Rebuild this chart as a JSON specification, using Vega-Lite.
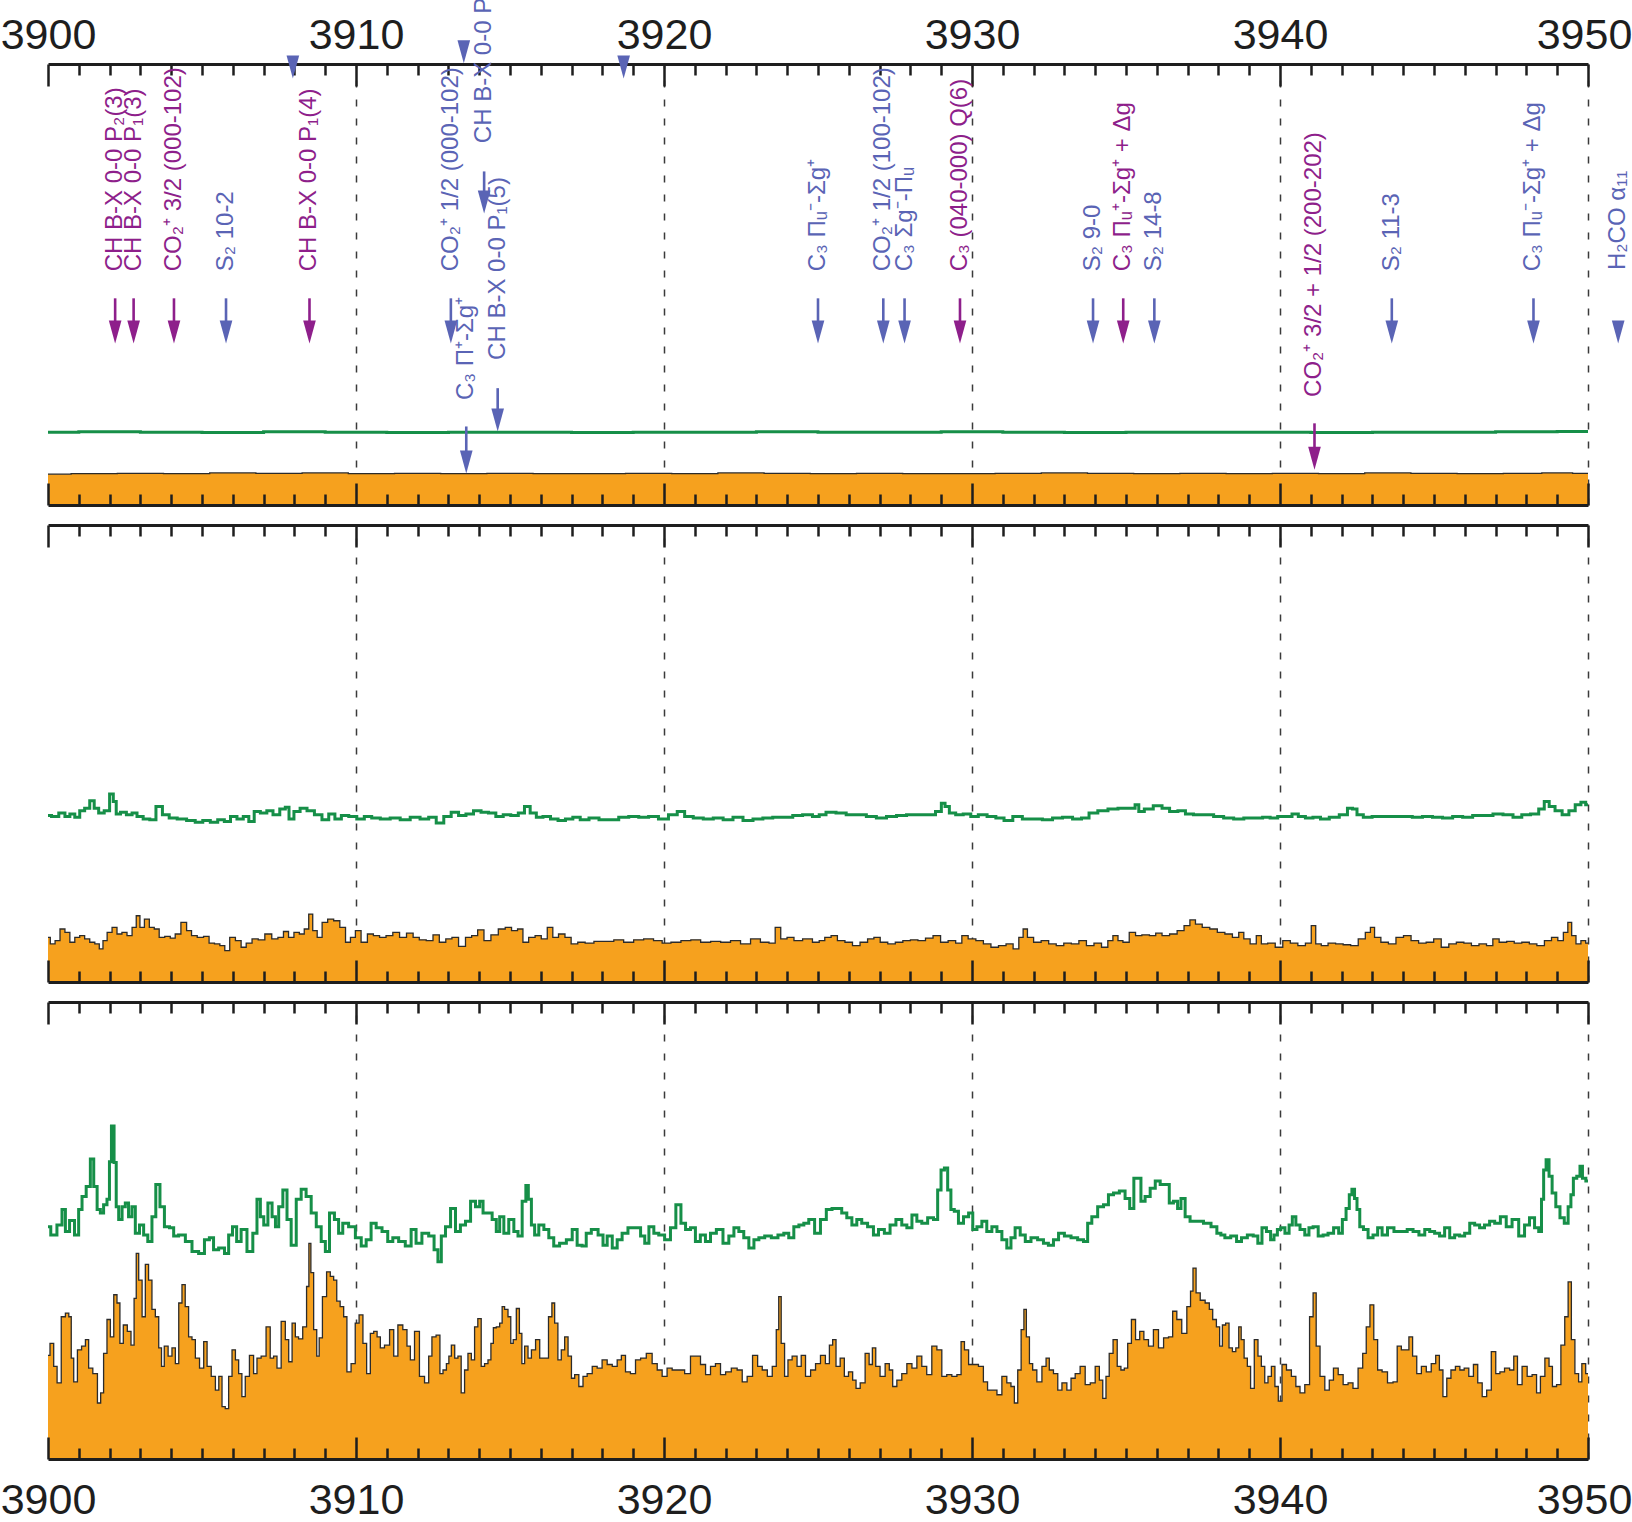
{
"$schema":"https://vega.github.io/schema/vega-lite/v6.json",
"background":"white",
"padding":{"left":0,"top":-3,"right":0,"bottom":0},
"spacing":20,
"bounds":"flush",
"resolve":{"scale":{"x":"independent","y":"independent","color":"independent"}},
"config":{"view":{"stroke":null},"axis":{"labelFlush":false,"domainColor":"#1e1e1e","domainWidth":3,"tickColor":"#1e1e1e","tickWidth":2.5,"labelFont":"Liberation Sans","labelFontSize":43,"labelColor":"#1e1e1e","labelOverlap":false,"gridColor":"#3a3a3a","gridWidth":1.5,"gridDash":[7,12]}},
"datasets":{
"g1":[{"x":3900,"v":1.16},{"x":3902,"v":1.165},{"x":3904,"v":1.16},{"x":3906,"v":1.155},{"x":3908,"v":1.165},{"x":3910,"v":1.16},{"x":3912,"v":1.155},{"x":3914,"v":1.16},{"x":3916,"v":1.16},{"x":3918,"v":1.155},{"x":3920,"v":1.16},{"x":3922,"v":1.16},{"x":3924,"v":1.165},{"x":3926,"v":1.16},{"x":3928,"v":1.16},{"x":3930,"v":1.165},{"x":3932,"v":1.16},{"x":3934,"v":1.155},{"x":3936,"v":1.16},{"x":3938,"v":1.16},{"x":3940,"v":1.16},{"x":3942,"v":1.155},{"x":3944,"v":1.16},{"x":3946,"v":1.16},{"x":3948,"v":1.165},{"x":3950,"v":1.17}],
"o1":[{"x":3900,"v":0.49},{"x":3901.5,"v":0.5},{"x":3903,"v":0.505},{"x":3904.5,"v":0.5},{"x":3906,"v":0.51},{"x":3907.5,"v":0.505},{"x":3909,"v":0.51},{"x":3910.5,"v":0.5},{"x":3912,"v":0.505},{"x":3913.5,"v":0.5},{"x":3915,"v":0.505},{"x":3916.5,"v":0.5},{"x":3918,"v":0.5},{"x":3919.5,"v":0.505},{"x":3921,"v":0.5},{"x":3922.5,"v":0.51},{"x":3924,"v":0.505},{"x":3925.5,"v":0.5},{"x":3927,"v":0.505},{"x":3928.5,"v":0.5},{"x":3930,"v":0.5},{"x":3931.5,"v":0.505},{"x":3933,"v":0.51},{"x":3934.5,"v":0.505},{"x":3936,"v":0.5},{"x":3937.5,"v":0.505},{"x":3939,"v":0.5},{"x":3940.5,"v":0.505},{"x":3942,"v":0.5},{"x":3943.5,"v":0.51},{"x":3945,"v":0.505},{"x":3946.5,"v":0.5},{"x":3948,"v":0.505},{"x":3949,"v":0.51},{"x":3950,"v":0.505}],
"g2":[{"x":3900,"v":2.01},{"x":3900.23,"v":2.0},{"x":3900.47,"v":2.04},{"x":3900.63,"v":2.0},{"x":3900.79,"v":2.03},{"x":3900.95,"v":1.99},{"x":3901.11,"v":2.07},{"x":3901.27,"v":2.1},{"x":3901.44,"v":2.19},{"x":3901.56,"v":2.1},{"x":3901.73,"v":2.04},{"x":3901.92,"v":2.07},{"x":3902.08,"v":2.27},{"x":3902.16,"v":2.18},{"x":3902.27,"v":2.03},{"x":3902.44,"v":2.05},{"x":3902.65,"v":2.02},{"x":3902.81,"v":2.04},{"x":3902.97,"v":2.0},{"x":3903.21,"v":1.97},{"x":3903.4,"v":1.96},{"x":3903.61,"v":2.12},{"x":3903.82,"v":2.02},{"x":3904.05,"v":1.98},{"x":3904.34,"v":1.97},{"x":3904.66,"v":1.95},{"x":3904.9,"v":1.93},{"x":3905.15,"v":1.95},{"x":3905.39,"v":1.93},{"x":3905.63,"v":1.96},{"x":3905.82,"v":1.94},{"x":3906.03,"v":2.0},{"x":3906.24,"v":1.97},{"x":3906.44,"v":2.0},{"x":3906.6,"v":1.94},{"x":3906.79,"v":2.06},{"x":3907.0,"v":2.04},{"x":3907.21,"v":2.07},{"x":3907.4,"v":2.02},{"x":3907.65,"v":2.09},{"x":3907.76,"v":2.11},{"x":3907.89,"v":1.97},{"x":3908.08,"v":2.06},{"x":3908.29,"v":2.1},{"x":3908.53,"v":2.07},{"x":3908.77,"v":2.02},{"x":3909.02,"v":1.96},{"x":3909.21,"v":2.03},{"x":3909.42,"v":1.97},{"x":3909.63,"v":2.01},{"x":3909.9,"v":2.0},{"x":3910.15,"v":1.97},{"x":3910.39,"v":2.0},{"x":3910.63,"v":1.98},{"x":3910.95,"v":1.97},{"x":3911.27,"v":1.98},{"x":3911.6,"v":1.96},{"x":3911.92,"v":1.99},{"x":3912.24,"v":1.97},{"x":3912.48,"v":1.99},{"x":3912.73,"v":1.92},{"x":3912.97,"v":2.0},{"x":3913.21,"v":2.05},{"x":3913.45,"v":2.01},{"x":3913.69,"v":2.03},{"x":3913.94,"v":2.07},{"x":3914.18,"v":2.05},{"x":3914.42,"v":2.04},{"x":3914.66,"v":2.0},{"x":3914.9,"v":2.02},{"x":3915.15,"v":2.01},{"x":3915.39,"v":2.04},{"x":3915.55,"v":2.12},{"x":3915.76,"v":2.04},{"x":3915.95,"v":1.99},{"x":3916.19,"v":2.0},{"x":3916.44,"v":1.97},{"x":3916.68,"v":1.95},{"x":3916.92,"v":1.97},{"x":3917.16,"v":1.99},{"x":3917.4,"v":1.96},{"x":3917.73,"v":1.98},{"x":3918.05,"v":1.96},{"x":3918.37,"v":1.96},{"x":3918.69,"v":1.99},{"x":3919.02,"v":2.0},{"x":3919.34,"v":1.99},{"x":3919.66,"v":2.0},{"x":3919.98,"v":1.97},{"x":3920.31,"v":2.02},{"x":3920.55,"v":2.06},{"x":3920.79,"v":2.0},{"x":3921.11,"v":1.98},{"x":3921.44,"v":1.97},{"x":3921.76,"v":1.98},{"x":3922.08,"v":1.96},{"x":3922.4,"v":1.99},{"x":3922.73,"v":1.95},{"x":3923.05,"v":1.97},{"x":3923.37,"v":1.98},{"x":3923.69,"v":1.99},{"x":3924.02,"v":1.99},{"x":3924.34,"v":2.01},{"x":3924.66,"v":2.02},{"x":3924.98,"v":2.0},{"x":3925.1,"v":2.02},{"x":3925.42,"v":2.05},{"x":3925.75,"v":2.04},{"x":3926.08,"v":2.02},{"x":3926.41,"v":2.02},{"x":3926.73,"v":2.0},{"x":3927.06,"v":1.98},{"x":3927.39,"v":2.0},{"x":3927.71,"v":2.01},{"x":3928.04,"v":2.02},{"x":3928.37,"v":2.02},{"x":3928.69,"v":2.02},{"x":3928.94,"v":2.06},{"x":3929.07,"v":2.16},{"x":3929.18,"v":2.12},{"x":3929.35,"v":2.04},{"x":3929.59,"v":2.02},{"x":3929.84,"v":2.03},{"x":3930.08,"v":2.0},{"x":3930.33,"v":2.02},{"x":3930.65,"v":2.0},{"x":3930.9,"v":1.98},{"x":3931.18,"v":1.95},{"x":3931.47,"v":2.0},{"x":3931.8,"v":1.97},{"x":3932.12,"v":1.97},{"x":3932.45,"v":1.96},{"x":3932.78,"v":1.98},{"x":3933.1,"v":1.99},{"x":3933.43,"v":1.97},{"x":3933.68,"v":1.98},{"x":3933.92,"v":2.04},{"x":3934.25,"v":2.07},{"x":3934.58,"v":2.09},{"x":3934.9,"v":2.1},{"x":3935.23,"v":2.1},{"x":3935.36,"v":2.14},{"x":3935.47,"v":2.06},{"x":3935.72,"v":2.09},{"x":3936.05,"v":2.13},{"x":3936.29,"v":2.1},{"x":3936.54,"v":2.06},{"x":3936.83,"v":2.07},{"x":3937.03,"v":2.03},{"x":3937.35,"v":2.02},{"x":3937.68,"v":2.02},{"x":3938.01,"v":2.0},{"x":3938.33,"v":1.98},{"x":3938.66,"v":1.97},{"x":3938.99,"v":1.98},{"x":3939.31,"v":1.98},{"x":3939.56,"v":1.99},{"x":3939.8,"v":1.98},{"x":3940.05,"v":2.0},{"x":3940.29,"v":2.0},{"x":3940.49,"v":2.03},{"x":3940.7,"v":2.0},{"x":3940.95,"v":1.98},{"x":3941.19,"v":1.99},{"x":3941.44,"v":1.97},{"x":3941.76,"v":1.99},{"x":3942.09,"v":2.02},{"x":3942.29,"v":2.1},{"x":3942.42,"v":2.09},{"x":3942.58,"v":2.02},{"x":3942.83,"v":1.99},{"x":3943.15,"v":2.0},{"x":3943.48,"v":2.0},{"x":3943.81,"v":2.0},{"x":3944.13,"v":2.0},{"x":3944.46,"v":1.99},{"x":3944.79,"v":2.0},{"x":3945.11,"v":1.99},{"x":3945.44,"v":1.98},{"x":3945.77,"v":2.0},{"x":3946.09,"v":1.99},{"x":3946.42,"v":2.01},{"x":3946.75,"v":2.01},{"x":3947.08,"v":2.03},{"x":3947.4,"v":2.02},{"x":3947.73,"v":1.99},{"x":3947.97,"v":2.02},{"x":3948.3,"v":2.03},{"x":3948.5,"v":2.09},{"x":3948.66,"v":2.18},{"x":3948.82,"v":2.12},{"x":3949.04,"v":2.07},{"x":3949.28,"v":2.02},{"x":3949.48,"v":2.07},{"x":3949.69,"v":2.14},{"x":3949.85,"v":2.17},{"x":3950,"v":2.14}],
"o2":[{"x":3900,"v":0.54},{"x":3900.15,"v":0.46},{"x":3900.31,"v":0.5},{"x":3900.47,"v":0.64},{"x":3900.63,"v":0.6},{"x":3900.79,"v":0.48},{"x":3900.95,"v":0.54},{"x":3901.11,"v":0.56},{"x":3901.27,"v":0.52},{"x":3901.44,"v":0.48},{"x":3901.6,"v":0.46},{"x":3901.73,"v":0.4},{"x":3901.84,"v":0.5},{"x":3902.0,"v":0.6},{"x":3902.16,"v":0.66},{"x":3902.32,"v":0.58},{"x":3902.48,"v":0.6},{"x":3902.65,"v":0.56},{"x":3902.81,"v":0.66},{"x":3902.92,"v":0.8},{"x":3903.05,"v":0.66},{"x":3903.21,"v":0.76},{"x":3903.37,"v":0.66},{"x":3903.53,"v":0.64},{"x":3903.69,"v":0.54},{"x":3903.89,"v":0.55},{"x":3904.05,"v":0.53},{"x":3904.21,"v":0.58},{"x":3904.42,"v":0.72},{"x":3904.58,"v":0.62},{"x":3904.74,"v":0.56},{"x":3904.95,"v":0.54},{"x":3905.15,"v":0.55},{"x":3905.31,"v":0.47},{"x":3905.5,"v":0.46},{"x":3905.66,"v":0.44},{"x":3905.82,"v":0.38},{"x":3905.98,"v":0.54},{"x":3906.19,"v":0.5},{"x":3906.35,"v":0.42},{"x":3906.52,"v":0.47},{"x":3906.73,"v":0.52},{"x":3906.92,"v":0.51},{"x":3907.16,"v":0.58},{"x":3907.37,"v":0.52},{"x":3907.56,"v":0.54},{"x":3907.73,"v":0.61},{"x":3907.89,"v":0.54},{"x":3908.08,"v":0.6},{"x":3908.24,"v":0.58},{"x":3908.4,"v":0.64},{"x":3908.53,"v":0.82},{"x":3908.66,"v":0.62},{"x":3908.82,"v":0.54},{"x":3908.98,"v":0.72},{"x":3909.18,"v":0.76},{"x":3909.37,"v":0.74},{"x":3909.58,"v":0.66},{"x":3909.74,"v":0.48},{"x":3909.9,"v":0.54},{"x":3910.06,"v":0.62},{"x":3910.27,"v":0.48},{"x":3910.47,"v":0.58},{"x":3910.66,"v":0.56},{"x":3910.87,"v":0.54},{"x":3911.08,"v":0.56},{"x":3911.31,"v":0.6},{"x":3911.52,"v":0.54},{"x":3911.76,"v":0.59},{"x":3911.95,"v":0.54},{"x":3912.16,"v":0.51},{"x":3912.4,"v":0.5},{"x":3912.6,"v":0.57},{"x":3912.81,"v":0.48},{"x":3913.02,"v":0.52},{"x":3913.21,"v":0.54},{"x":3913.45,"v":0.43},{"x":3913.66,"v":0.54},{"x":3913.85,"v":0.56},{"x":3914.05,"v":0.63},{"x":3914.26,"v":0.5},{"x":3914.5,"v":0.57},{"x":3914.74,"v":0.64},{"x":3914.95,"v":0.66},{"x":3915.15,"v":0.62},{"x":3915.34,"v":0.64},{"x":3915.5,"v":0.48},{"x":3915.71,"v":0.54},{"x":3915.92,"v":0.56},{"x":3916.11,"v":0.52},{"x":3916.31,"v":0.66},{"x":3916.47,"v":0.54},{"x":3916.68,"v":0.58},{"x":3916.89,"v":0.54},{"x":3917.08,"v":0.46},{"x":3917.32,"v":0.48},{"x":3917.56,"v":0.47},{"x":3917.89,"v":0.49},{"x":3918.21,"v":0.49},{"x":3918.53,"v":0.51},{"x":3918.85,"v":0.48},{"x":3919.18,"v":0.51},{"x":3919.5,"v":0.52},{"x":3919.82,"v":0.5},{"x":3920.06,"v":0.47},{"x":3920.39,"v":0.48},{"x":3920.71,"v":0.5},{"x":3921.03,"v":0.51},{"x":3921.35,"v":0.48},{"x":3921.68,"v":0.49},{"x":3922.0,"v":0.48},{"x":3922.32,"v":0.5},{"x":3922.65,"v":0.46},{"x":3922.97,"v":0.52},{"x":3923.29,"v":0.48},{"x":3923.53,"v":0.47},{"x":3923.69,"v":0.66},{"x":3923.89,"v":0.52},{"x":3924.1,"v":0.54},{"x":3924.34,"v":0.5},{"x":3924.66,"v":0.52},{"x":3924.98,"v":0.48},{"x":3925.1,"v":0.5},{"x":3925.34,"v":0.54},{"x":3925.51,"v":0.56},{"x":3925.75,"v":0.5},{"x":3926.0,"v":0.48},{"x":3926.24,"v":0.44},{"x":3926.49,"v":0.48},{"x":3926.73,"v":0.52},{"x":3926.9,"v":0.54},{"x":3927.14,"v":0.48},{"x":3927.39,"v":0.46},{"x":3927.63,"v":0.48},{"x":3927.88,"v":0.5},{"x":3928.12,"v":0.51},{"x":3928.37,"v":0.5},{"x":3928.61,"v":0.53},{"x":3928.86,"v":0.56},{"x":3929.1,"v":0.48},{"x":3929.35,"v":0.5},{"x":3929.59,"v":0.47},{"x":3929.75,"v":0.56},{"x":3930.0,"v":0.52},{"x":3930.25,"v":0.5},{"x":3930.49,"v":0.46},{"x":3930.74,"v":0.42},{"x":3930.98,"v":0.44},{"x":3931.23,"v":0.46},{"x":3931.44,"v":0.4},{"x":3931.6,"v":0.54},{"x":3931.72,"v":0.64},{"x":3931.88,"v":0.54},{"x":3932.12,"v":0.48},{"x":3932.37,"v":0.5},{"x":3932.61,"v":0.46},{"x":3932.86,"v":0.44},{"x":3933.1,"v":0.47},{"x":3933.35,"v":0.46},{"x":3933.59,"v":0.5},{"x":3933.84,"v":0.44},{"x":3934.08,"v":0.47},{"x":3934.33,"v":0.42},{"x":3934.49,"v":0.5},{"x":3934.66,"v":0.56},{"x":3934.82,"v":0.5},{"x":3934.98,"v":0.48},{"x":3935.23,"v":0.6},{"x":3935.39,"v":0.56},{"x":3935.64,"v":0.57},{"x":3935.88,"v":0.56},{"x":3936.05,"v":0.59},{"x":3936.29,"v":0.56},{"x":3936.54,"v":0.58},{"x":3936.78,"v":0.62},{"x":3936.99,"v":0.68},{"x":3937.16,"v":0.75},{"x":3937.35,"v":0.7},{"x":3937.6,"v":0.66},{"x":3937.84,"v":0.64},{"x":3938.09,"v":0.6},{"x":3938.33,"v":0.58},{"x":3938.58,"v":0.54},{"x":3938.74,"v":0.6},{"x":3938.91,"v":0.52},{"x":3939.15,"v":0.46},{"x":3939.31,"v":0.56},{"x":3939.48,"v":0.46},{"x":3939.72,"v":0.47},{"x":3939.97,"v":0.42},{"x":3940.21,"v":0.5},{"x":3940.46,"v":0.47},{"x":3940.7,"v":0.44},{"x":3940.95,"v":0.47},{"x":3941.08,"v":0.68},{"x":3941.24,"v":0.46},{"x":3941.44,"v":0.44},{"x":3941.68,"v":0.47},{"x":3941.93,"v":0.46},{"x":3942.17,"v":0.45},{"x":3942.42,"v":0.44},{"x":3942.66,"v":0.52},{"x":3942.88,"v":0.6},{"x":3942.99,"v":0.66},{"x":3943.15,"v":0.54},{"x":3943.4,"v":0.48},{"x":3943.64,"v":0.46},{"x":3943.89,"v":0.54},{"x":3944.13,"v":0.56},{"x":3944.38,"v":0.5},{"x":3944.62,"v":0.47},{"x":3944.87,"v":0.48},{"x":3945.11,"v":0.52},{"x":3945.36,"v":0.42},{"x":3945.6,"v":0.46},{"x":3945.85,"v":0.48},{"x":3946.09,"v":0.47},{"x":3946.34,"v":0.44},{"x":3946.58,"v":0.46},{"x":3946.83,"v":0.44},{"x":3946.99,"v":0.52},{"x":3947.24,"v":0.48},{"x":3947.48,"v":0.49},{"x":3947.73,"v":0.47},{"x":3947.97,"v":0.48},{"x":3948.22,"v":0.46},{"x":3948.46,"v":0.44},{"x":3948.71,"v":0.5},{"x":3948.92,"v":0.54},{"x":3949.12,"v":0.5},{"x":3949.28,"v":0.6},{"x":3949.41,"v":0.72},{"x":3949.53,"v":0.56},{"x":3949.69,"v":0.46},{"x":3949.85,"v":0.5},{"x":3950,"v":0.47}],
"g3":[{"x":3900,"v":2.53},{"x":3900.18,"v":2.44},{"x":3900.4,"v":2.55},{"x":3900.51,"v":2.72},{"x":3900.62,"v":2.48},{"x":3900.78,"v":2.6},{"x":3900.94,"v":2.44},{"x":3901.05,"v":2.72},{"x":3901.16,"v":2.86},{"x":3901.32,"v":2.97},{"x":3901.43,"v":3.27},{"x":3901.54,"v":2.97},{"x":3901.65,"v":2.72},{"x":3901.75,"v":2.68},{"x":3901.86,"v":2.77},{"x":3901.97,"v":2.83},{"x":3902.02,"v":3.24},{"x":3902.1,"v":3.63},{"x":3902.19,"v":3.23},{"x":3902.24,"v":2.75},{"x":3902.35,"v":2.61},{"x":3902.46,"v":2.75},{"x":3902.56,"v":2.79},{"x":3902.67,"v":2.64},{"x":3902.78,"v":2.75},{"x":3902.89,"v":2.46},{"x":3903.05,"v":2.55},{"x":3903.16,"v":2.44},{"x":3903.32,"v":2.37},{"x":3903.43,"v":2.64},{"x":3903.57,"v":2.99},{"x":3903.7,"v":2.75},{"x":3903.86,"v":2.53},{"x":3904.03,"v":2.52},{"x":3904.13,"v":2.43},{"x":3904.35,"v":2.44},{"x":3904.57,"v":2.37},{"x":3904.78,"v":2.26},{"x":3905.0,"v":2.24},{"x":3905.16,"v":2.39},{"x":3905.32,"v":2.41},{"x":3905.43,"v":2.28},{"x":3905.65,"v":2.3},{"x":3905.81,"v":2.24},{"x":3905.92,"v":2.44},{"x":3906.06,"v":2.53},{"x":3906.19,"v":2.37},{"x":3906.35,"v":2.5},{"x":3906.57,"v":2.26},{"x":3906.73,"v":2.46},{"x":3906.84,"v":2.83},{"x":3906.95,"v":2.64},{"x":3907.06,"v":2.55},{"x":3907.22,"v":2.79},{"x":3907.33,"v":2.64},{"x":3907.44,"v":2.53},{"x":3907.54,"v":2.75},{"x":3907.71,"v":2.93},{"x":3907.81,"v":2.61},{"x":3907.98,"v":2.33},{"x":3908.14,"v":2.83},{"x":3908.3,"v":2.94},{"x":3908.46,"v":2.86},{"x":3908.63,"v":2.68},{"x":3908.79,"v":2.53},{"x":3908.95,"v":2.37},{"x":3909.06,"v":2.26},{"x":3909.22,"v":2.68},{"x":3909.38,"v":2.61},{"x":3909.49,"v":2.46},{"x":3909.65,"v":2.57},{"x":3909.87,"v":2.53},{"x":3910.09,"v":2.41},{"x":3910.25,"v":2.32},{"x":3910.41,"v":2.39},{"x":3910.57,"v":2.57},{"x":3910.74,"v":2.52},{"x":3910.95,"v":2.48},{"x":3911.11,"v":2.37},{"x":3911.28,"v":2.41},{"x":3911.49,"v":2.37},{"x":3911.71,"v":2.32},{"x":3911.87,"v":2.5},{"x":3912.03,"v":2.35},{"x":3912.25,"v":2.46},{"x":3912.47,"v":2.43},{"x":3912.6,"v":2.28},{"x":3912.72,"v":2.15},{"x":3912.82,"v":2.43},{"x":3912.99,"v":2.53},{"x":3913.15,"v":2.73},{"x":3913.31,"v":2.48},{"x":3913.47,"v":2.55},{"x":3913.64,"v":2.59},{"x":3913.8,"v":2.81},{"x":3913.96,"v":2.75},{"x":3914.07,"v":2.81},{"x":3914.18,"v":2.68},{"x":3914.34,"v":2.68},{"x":3914.5,"v":2.61},{"x":3914.61,"v":2.48},{"x":3914.72,"v":2.64},{"x":3914.88,"v":2.46},{"x":3915.04,"v":2.61},{"x":3915.21,"v":2.48},{"x":3915.31,"v":2.43},{"x":3915.48,"v":2.81},{"x":3915.55,"v":2.98},{"x":3915.64,"v":2.83},{"x":3915.75,"v":2.55},{"x":3915.85,"v":2.44},{"x":3916.02,"v":2.55},{"x":3916.18,"v":2.5},{"x":3916.34,"v":2.41},{"x":3916.5,"v":2.32},{"x":3916.72,"v":2.35},{"x":3916.94,"v":2.39},{"x":3917.1,"v":2.5},{"x":3917.26,"v":2.33},{"x":3917.42,"v":2.32},{"x":3917.53,"v":2.46},{"x":3917.75,"v":2.5},{"x":3917.97,"v":2.44},{"x":3918.07,"v":2.33},{"x":3918.24,"v":2.43},{"x":3918.4,"v":2.3},{"x":3918.56,"v":2.39},{"x":3918.72,"v":2.46},{"x":3918.94,"v":2.52},{"x":3919.16,"v":2.52},{"x":3919.32,"v":2.43},{"x":3919.43,"v":2.35},{"x":3919.59,"v":2.53},{"x":3919.75,"v":2.46},{"x":3919.91,"v":2.44},{"x":3920.13,"v":2.39},{"x":3920.29,"v":2.52},{"x":3920.48,"v":2.77},{"x":3920.62,"v":2.57},{"x":3920.78,"v":2.5},{"x":3920.94,"v":2.52},{"x":3921.1,"v":2.37},{"x":3921.26,"v":2.44},{"x":3921.43,"v":2.37},{"x":3921.59,"v":2.46},{"x":3921.81,"v":2.5},{"x":3922.02,"v":2.35},{"x":3922.19,"v":2.43},{"x":3922.35,"v":2.52},{"x":3922.51,"v":2.48},{"x":3922.67,"v":2.41},{"x":3922.84,"v":2.3},{"x":3923.0,"v":2.39},{"x":3923.16,"v":2.41},{"x":3923.38,"v":2.43},{"x":3923.59,"v":2.41},{"x":3923.81,"v":2.44},{"x":3923.97,"v":2.46},{"x":3924.13,"v":2.41},{"x":3924.3,"v":2.53},{"x":3924.46,"v":2.55},{"x":3924.62,"v":2.57},{"x":3924.78,"v":2.61},{"x":3925.0,"v":2.46},{"x":3925.16,"v":2.61},{"x":3925.38,"v":2.72},{"x":3925.53,"v":2.73},{"x":3925.69,"v":2.73},{"x":3925.85,"v":2.68},{"x":3926.02,"v":2.63},{"x":3926.18,"v":2.55},{"x":3926.34,"v":2.61},{"x":3926.5,"v":2.57},{"x":3926.72,"v":2.53},{"x":3926.88,"v":2.44},{"x":3927.05,"v":2.5},{"x":3927.26,"v":2.46},{"x":3927.42,"v":2.55},{"x":3927.64,"v":2.61},{"x":3927.8,"v":2.55},{"x":3927.97,"v":2.52},{"x":3928.13,"v":2.66},{"x":3928.29,"v":2.59},{"x":3928.45,"v":2.57},{"x":3928.67,"v":2.63},{"x":3928.83,"v":2.61},{"x":3928.94,"v":2.93},{"x":3929.05,"v":3.15},{"x":3929.16,"v":3.17},{"x":3929.26,"v":2.93},{"x":3929.37,"v":2.72},{"x":3929.48,"v":2.7},{"x":3929.64,"v":2.57},{"x":3929.81,"v":2.64},{"x":3929.97,"v":2.68},{"x":3930.08,"v":2.5},{"x":3930.24,"v":2.53},{"x":3930.4,"v":2.59},{"x":3930.56,"v":2.48},{"x":3930.73,"v":2.53},{"x":3930.89,"v":2.48},{"x":3931.05,"v":2.39},{"x":3931.21,"v":2.3},{"x":3931.32,"v":2.41},{"x":3931.48,"v":2.52},{"x":3931.65,"v":2.44},{"x":3931.81,"v":2.37},{"x":3932.02,"v":2.41},{"x":3932.24,"v":2.39},{"x":3932.4,"v":2.35},{"x":3932.56,"v":2.33},{"x":3932.73,"v":2.39},{"x":3932.89,"v":2.46},{"x":3933.11,"v":2.43},{"x":3933.32,"v":2.41},{"x":3933.54,"v":2.39},{"x":3933.7,"v":2.37},{"x":3933.81,"v":2.57},{"x":3933.97,"v":2.64},{"x":3934.19,"v":2.75},{"x":3934.35,"v":2.77},{"x":3934.51,"v":2.88},{"x":3934.68,"v":2.9},{"x":3934.89,"v":2.92},{"x":3935.05,"v":2.84},{"x":3935.19,"v":2.73},{"x":3935.32,"v":3.06},{"x":3935.43,"v":3.06},{"x":3935.54,"v":2.81},{"x":3935.7,"v":2.86},{"x":3935.87,"v":2.95},{"x":3936.03,"v":3.03},{"x":3936.19,"v":2.99},{"x":3936.35,"v":2.99},{"x":3936.46,"v":2.79},{"x":3936.62,"v":2.81},{"x":3936.73,"v":2.73},{"x":3936.84,"v":2.84},{"x":3937.0,"v":2.64},{"x":3937.16,"v":2.59},{"x":3937.38,"v":2.59},{"x":3937.65,"v":2.57},{"x":3937.87,"v":2.53},{"x":3938.03,"v":2.46},{"x":3938.13,"v":2.44},{"x":3938.29,"v":2.41},{"x":3938.51,"v":2.43},{"x":3938.67,"v":2.37},{"x":3938.83,"v":2.41},{"x":3939.05,"v":2.44},{"x":3939.21,"v":2.43},{"x":3939.35,"v":2.35},{"x":3939.48,"v":2.52},{"x":3939.64,"v":2.48},{"x":3939.75,"v":2.39},{"x":3939.86,"v":2.44},{"x":3939.97,"v":2.5},{"x":3940.08,"v":2.52},{"x":3940.24,"v":2.46},{"x":3940.35,"v":2.55},{"x":3940.45,"v":2.64},{"x":3940.58,"v":2.55},{"x":3940.72,"v":2.5},{"x":3940.89,"v":2.44},{"x":3940.99,"v":2.52},{"x":3941.16,"v":2.53},{"x":3941.32,"v":2.43},{"x":3941.48,"v":2.44},{"x":3941.64,"v":2.46},{"x":3941.84,"v":2.52},{"x":3941.97,"v":2.46},{"x":3942.08,"v":2.61},{"x":3942.21,"v":2.73},{"x":3942.29,"v":2.88},{"x":3942.38,"v":2.94},{"x":3942.46,"v":2.84},{"x":3942.54,"v":2.72},{"x":3942.64,"v":2.53},{"x":3942.78,"v":2.5},{"x":3942.94,"v":2.41},{"x":3943.1,"v":2.44},{"x":3943.24,"v":2.52},{"x":3943.39,"v":2.44},{"x":3943.59,"v":2.52},{"x":3943.81,"v":2.48},{"x":3944.02,"v":2.48},{"x":3944.24,"v":2.5},{"x":3944.4,"v":2.48},{"x":3944.62,"v":2.44},{"x":3944.78,"v":2.5},{"x":3944.94,"v":2.48},{"x":3945.1,"v":2.46},{"x":3945.26,"v":2.43},{"x":3945.43,"v":2.52},{"x":3945.59,"v":2.41},{"x":3945.75,"v":2.44},{"x":3945.91,"v":2.43},{"x":3946.08,"v":2.46},{"x":3946.24,"v":2.57},{"x":3946.4,"v":2.55},{"x":3946.56,"v":2.52},{"x":3946.72,"v":2.55},{"x":3946.89,"v":2.59},{"x":3947.05,"v":2.57},{"x":3947.26,"v":2.64},{"x":3947.43,"v":2.53},{"x":3947.64,"v":2.61},{"x":3947.86,"v":2.43},{"x":3948.02,"v":2.55},{"x":3948.18,"v":2.63},{"x":3948.35,"v":2.52},{"x":3948.45,"v":2.48},{"x":3948.53,"v":2.83},{"x":3948.59,"v":3.15},{"x":3948.69,"v":3.26},{"x":3948.78,"v":3.08},{"x":3948.89,"v":2.9},{"x":3949.02,"v":2.75},{"x":3949.16,"v":2.63},{"x":3949.3,"v":2.57},{"x":3949.41,"v":2.75},{"x":3949.48,"v":2.88},{"x":3949.57,"v":3.06},{"x":3949.7,"v":3.08},{"x":3949.78,"v":3.19},{"x":3949.86,"v":3.06},{"x":3950,"v":3.03}],
"o3":[{"x":3900,"v":1.13},{"x":3900.13,"v":1.26},{"x":3900.24,"v":1.01},{"x":3900.35,"v":0.83},{"x":3900.51,"v":1.55},{"x":3900.62,"v":1.59},{"x":3900.73,"v":1.55},{"x":3900.78,"v":1.1},{"x":3900.89,"v":0.84},{"x":3901.02,"v":1.19},{"x":3901.16,"v":1.23},{"x":3901.27,"v":1.3},{"x":3901.37,"v":0.99},{"x":3901.54,"v":0.93},{"x":3901.67,"v":0.61},{"x":3901.75,"v":0.72},{"x":3901.86,"v":1.15},{"x":3901.97,"v":1.52},{"x":3902.08,"v":1.33},{"x":3902.19,"v":1.79},{"x":3902.29,"v":1.7},{"x":3902.38,"v":1.26},{"x":3902.51,"v":1.46},{"x":3902.64,"v":1.39},{"x":3902.75,"v":1.24},{"x":3902.84,"v":1.75},{"x":3902.89,"v":2.24},{"x":3903.0,"v":1.95},{"x":3903.11,"v":1.55},{"x":3903.21,"v":2.12},{"x":3903.32,"v":1.95},{"x":3903.43,"v":1.63},{"x":3903.54,"v":1.55},{"x":3903.65,"v":1.21},{"x":3903.72,"v":1.01},{"x":3903.83,"v":1.23},{"x":3903.97,"v":1.12},{"x":3904.08,"v":1.21},{"x":3904.19,"v":1.04},{"x":3904.3,"v":1.7},{"x":3904.4,"v":1.9},{"x":3904.51,"v":1.66},{"x":3904.62,"v":1.33},{"x":3904.73,"v":1.3},{"x":3904.84,"v":1.1},{"x":3905.0,"v":0.99},{"x":3905.11,"v":1.28},{"x":3905.22,"v":1.01},{"x":3905.38,"v":0.9},{"x":3905.49,"v":0.75},{"x":3905.6,"v":0.9},{"x":3905.7,"v":0.57},{"x":3905.81,"v":0.55},{"x":3905.92,"v":0.9},{"x":3906.03,"v":1.19},{"x":3906.14,"v":1.08},{"x":3906.24,"v":0.93},{"x":3906.35,"v":0.68},{"x":3906.46,"v":0.9},{"x":3906.62,"v":1.13},{"x":3906.73,"v":0.93},{"x":3906.84,"v":1.1},{"x":3907.0,"v":1.12},{"x":3907.16,"v":1.44},{"x":3907.27,"v":1.1},{"x":3907.38,"v":1.12},{"x":3907.49,"v":0.99},{"x":3907.65,"v":1.5},{"x":3907.76,"v":1.3},{"x":3907.87,"v":1.06},{"x":3907.98,"v":1.48},{"x":3908.08,"v":1.33},{"x":3908.19,"v":1.31},{"x":3908.35,"v":1.44},{"x":3908.44,"v":1.88},{"x":3908.5,"v":2.35},{"x":3908.57,"v":2.03},{"x":3908.68,"v":1.41},{"x":3908.77,"v":1.12},{"x":3908.84,"v":1.32},{"x":3908.98,"v":1.77},{"x":3909.11,"v":2.04},{"x":3909.22,"v":1.99},{"x":3909.33,"v":1.95},{"x":3909.42,"v":1.72},{"x":3909.55,"v":1.66},{"x":3909.65,"v":1.55},{"x":3909.76,"v":0.95},{"x":3909.92,"v":1.04},{"x":3910.03,"v":1.48},{"x":3910.17,"v":1.57},{"x":3910.28,"v":1.26},{"x":3910.41,"v":0.93},{"x":3910.52,"v":1.37},{"x":3910.63,"v":1.39},{"x":3910.74,"v":1.33},{"x":3910.84,"v":1.21},{"x":3911.01,"v":1.24},{"x":3911.17,"v":1.41},{"x":3911.28,"v":1.12},{"x":3911.44,"v":1.46},{"x":3911.6,"v":1.41},{"x":3911.71,"v":1.23},{"x":3911.82,"v":1.08},{"x":3911.98,"v":1.39},{"x":3912.14,"v":0.9},{"x":3912.31,"v":0.83},{"x":3912.41,"v":1.12},{"x":3912.52,"v":1.33},{"x":3912.68,"v":1.35},{"x":3912.77,"v":0.93},{"x":3912.88,"v":0.97},{"x":3912.99,"v":1.04},{"x":3913.04,"v":1.12},{"x":3913.15,"v":1.24},{"x":3913.26,"v":1.1},{"x":3913.36,"v":1.12},{"x":3913.47,"v":0.72},{"x":3913.58,"v":0.97},{"x":3913.69,"v":1.15},{"x":3913.8,"v":1.08},{"x":3913.9,"v":1.44},{"x":3914.01,"v":1.53},{"x":3914.12,"v":1.01},{"x":3914.23,"v":1.04},{"x":3914.34,"v":1.08},{"x":3914.42,"v":1.26},{"x":3914.5,"v":1.43},{"x":3914.61,"v":1.44},{"x":3914.72,"v":1.48},{"x":3914.77,"v":1.66},{"x":3914.88,"v":1.63},{"x":3914.99,"v":1.55},{"x":3915.06,"v":1.26},{"x":3915.15,"v":1.3},{"x":3915.26,"v":1.64},{"x":3915.35,"v":1.37},{"x":3915.42,"v":1.04},{"x":3915.53,"v":1.23},{"x":3915.64,"v":1.1},{"x":3915.75,"v":1.19},{"x":3915.91,"v":1.3},{"x":3916.02,"v":1.1},{"x":3916.18,"v":1.1},{"x":3916.32,"v":1.55},{"x":3916.4,"v":1.7},{"x":3916.5,"v":1.48},{"x":3916.61,"v":1.08},{"x":3916.72,"v":1.19},{"x":3916.83,"v":1.33},{"x":3916.94,"v":1.12},{"x":3917.05,"v":0.88},{"x":3917.15,"v":0.92},{"x":3917.32,"v":0.79},{"x":3917.42,"v":0.9},{"x":3917.59,"v":0.93},{"x":3917.75,"v":1.01},{"x":3917.91,"v":0.99},{"x":3918.07,"v":1.08},{"x":3918.24,"v":1.03},{"x":3918.4,"v":1.01},{"x":3918.56,"v":1.08},{"x":3918.67,"v":1.13},{"x":3918.83,"v":0.95},{"x":3918.99,"v":0.93},{"x":3919.16,"v":1.08},{"x":3919.32,"v":1.1},{"x":3919.53,"v":1.15},{"x":3919.7,"v":1.04},{"x":3919.86,"v":0.97},{"x":3920.02,"v":0.9},{"x":3920.18,"v":0.99},{"x":3920.35,"v":0.97},{"x":3920.56,"v":0.97},{"x":3920.78,"v":0.93},{"x":3920.94,"v":1.12},{"x":3921.1,"v":1.12},{"x":3921.27,"v":1.03},{"x":3921.43,"v":0.92},{"x":3921.59,"v":1.01},{"x":3921.75,"v":1.04},{"x":3921.92,"v":0.92},{"x":3922.08,"v":0.95},{"x":3922.29,"v":0.99},{"x":3922.46,"v":0.97},{"x":3922.62,"v":0.84},{"x":3922.78,"v":0.9},{"x":3922.97,"v":1.13},{"x":3923.11,"v":1.01},{"x":3923.27,"v":0.97},{"x":3923.44,"v":0.9},{"x":3923.59,"v":1.01},{"x":3923.7,"v":1.41},{"x":3923.75,"v":1.77},{"x":3923.86,"v":1.26},{"x":3923.97,"v":0.9},{"x":3924.08,"v":1.08},{"x":3924.24,"v":1.12},{"x":3924.4,"v":1.01},{"x":3924.51,"v":1.13},{"x":3924.68,"v":0.9},{"x":3924.84,"v":0.97},{"x":3925.0,"v":1.04},{"x":3925.16,"v":1.13},{"x":3925.32,"v":1.04},{"x":3925.42,"v":1.24},{"x":3925.53,"v":1.3},{"x":3925.64,"v":1.01},{"x":3925.8,"v":1.1},{"x":3925.91,"v":0.9},{"x":3926.07,"v":0.95},{"x":3926.18,"v":0.86},{"x":3926.29,"v":0.77},{"x":3926.45,"v":0.83},{"x":3926.61,"v":1.15},{"x":3926.71,"v":1.03},{"x":3926.82,"v":1.21},{"x":3926.93,"v":1.01},{"x":3927.1,"v":0.9},{"x":3927.26,"v":1.04},{"x":3927.37,"v":0.97},{"x":3927.48,"v":0.79},{"x":3927.64,"v":0.86},{"x":3927.8,"v":0.93},{"x":3927.97,"v":1.04},{"x":3928.13,"v":0.99},{"x":3928.29,"v":1.12},{"x":3928.45,"v":1.01},{"x":3928.61,"v":0.92},{"x":3928.78,"v":1.23},{"x":3928.94,"v":1.19},{"x":3929.1,"v":0.9},{"x":3929.26,"v":0.92},{"x":3929.43,"v":0.9},{"x":3929.59,"v":0.92},{"x":3929.7,"v":1.28},{"x":3929.81,"v":1.19},{"x":3929.97,"v":1.03},{"x":3930.13,"v":1.03},{"x":3930.29,"v":1.01},{"x":3930.45,"v":0.84},{"x":3930.56,"v":0.75},{"x":3930.73,"v":0.75},{"x":3930.89,"v":0.7},{"x":3931.05,"v":0.9},{"x":3931.21,"v":0.83},{"x":3931.32,"v":0.79},{"x":3931.43,"v":0.61},{"x":3931.54,"v":0.97},{"x":3931.65,"v":1.41},{"x":3931.72,"v":1.63},{"x":3931.81,"v":1.33},{"x":3931.92,"v":1.04},{"x":3932.02,"v":0.97},{"x":3932.19,"v":0.84},{"x":3932.35,"v":1.01},{"x":3932.46,"v":1.1},{"x":3932.56,"v":0.97},{"x":3932.73,"v":0.93},{"x":3932.84,"v":0.75},{"x":3933.0,"v":0.83},{"x":3933.16,"v":0.75},{"x":3933.27,"v":0.88},{"x":3933.43,"v":0.93},{"x":3933.59,"v":1.01},{"x":3933.76,"v":0.81},{"x":3933.92,"v":0.83},{"x":3934.08,"v":1.01},{"x":3934.19,"v":0.86},{"x":3934.3,"v":0.66},{"x":3934.4,"v":0.9},{"x":3934.51,"v":1.15},{"x":3934.65,"v":1.3},{"x":3934.78,"v":1.01},{"x":3934.89,"v":0.97},{"x":3935.0,"v":0.99},{"x":3935.11,"v":1.26},{"x":3935.24,"v":1.52},{"x":3935.38,"v":1.3},{"x":3935.51,"v":1.39},{"x":3935.65,"v":1.3},{"x":3935.81,"v":1.23},{"x":3935.97,"v":1.41},{"x":3936.14,"v":1.21},{"x":3936.3,"v":1.32},{"x":3936.46,"v":1.33},{"x":3936.57,"v":1.61},{"x":3936.73,"v":1.52},{"x":3936.89,"v":1.37},{"x":3937.06,"v":1.66},{"x":3937.13,"v":1.83},{"x":3937.22,"v":2.08},{"x":3937.33,"v":1.81},{"x":3937.49,"v":1.73},{"x":3937.65,"v":1.7},{"x":3937.76,"v":1.63},{"x":3937.87,"v":1.52},{"x":3938.0,"v":1.44},{"x":3938.08,"v":1.23},{"x":3938.18,"v":1.46},{"x":3938.29,"v":1.48},{"x":3938.4,"v":1.21},{"x":3938.51,"v":1.17},{"x":3938.62,"v":1.21},{"x":3938.7,"v":1.44},{"x":3938.78,"v":1.3},{"x":3938.89,"v":1.1},{"x":3938.99,"v":1.01},{"x":3939.1,"v":0.77},{"x":3939.23,"v":1.3},{"x":3939.34,"v":1.12},{"x":3939.45,"v":1.01},{"x":3939.56,"v":0.83},{"x":3939.66,"v":0.9},{"x":3939.78,"v":1.01},{"x":3939.89,"v":0.79},{"x":3940.0,"v":0.63},{"x":3940.13,"v":1.03},{"x":3940.29,"v":0.97},{"x":3940.45,"v":0.9},{"x":3940.58,"v":0.79},{"x":3940.72,"v":0.72},{"x":3940.89,"v":0.81},{"x":3941.03,"v":1.55},{"x":3941.12,"v":1.81},{"x":3941.23,"v":1.23},{"x":3941.37,"v":0.9},{"x":3941.54,"v":0.75},{"x":3941.66,"v":0.86},{"x":3941.81,"v":0.99},{"x":3941.97,"v":0.92},{"x":3942.13,"v":0.81},{"x":3942.29,"v":0.83},{"x":3942.45,"v":0.77},{"x":3942.62,"v":0.99},{"x":3942.75,"v":1.15},{"x":3942.85,"v":1.44},{"x":3942.99,"v":1.68},{"x":3943.1,"v":1.3},{"x":3943.24,"v":0.97},{"x":3943.39,"v":0.95},{"x":3943.59,"v":0.83},{"x":3943.75,"v":0.84},{"x":3943.86,"v":1.23},{"x":3944.02,"v":1.19},{"x":3944.13,"v":1.19},{"x":3944.24,"v":1.33},{"x":3944.37,"v":1.12},{"x":3944.51,"v":0.93},{"x":3944.67,"v":1.01},{"x":3944.83,"v":0.95},{"x":3944.99,"v":1.04},{"x":3945.12,"v":1.13},{"x":3945.23,"v":0.97},{"x":3945.35,"v":0.68},{"x":3945.48,"v":0.88},{"x":3945.62,"v":0.97},{"x":3945.77,"v":1.01},{"x":3945.91,"v":0.97},{"x":3946.05,"v":0.99},{"x":3946.21,"v":0.9},{"x":3946.35,"v":1.03},{"x":3946.49,"v":0.83},{"x":3946.64,"v":0.68},{"x":3946.78,"v":0.75},{"x":3946.94,"v":1.17},{"x":3947.07,"v":0.93},{"x":3947.21,"v":0.95},{"x":3947.37,"v":0.99},{"x":3947.54,"v":0.97},{"x":3947.64,"v":1.12},{"x":3947.78,"v":0.81},{"x":3947.94,"v":1.01},{"x":3948.11,"v":0.9},{"x":3948.26,"v":0.92},{"x":3948.4,"v":0.72},{"x":3948.51,"v":0.9},{"x":3948.69,"v":1.1},{"x":3948.78,"v":1.01},{"x":3948.91,"v":0.79},{"x":3949.05,"v":0.81},{"x":3949.19,"v":1.24},{"x":3949.3,"v":1.55},{"x":3949.41,"v":1.93},{"x":3949.51,"v":1.3},{"x":3949.64,"v":0.93},{"x":3949.75,"v":0.84},{"x":3949.85,"v":1.04},{"x":3950,"v":0.93}],
"ann":[
{"x":3902.18,"c":"p","t":"CH B-X 0-0 P₂(3)","lab":3.72,"top":3.29,"tip":2.57},
{"x":3902.78,"c":"p","t":"CH B-X 0-0 P₁(3)","lab":3.72,"top":3.29,"tip":2.57},
{"x":3904.09,"c":"p","t":"CO₂⁺ 3/2 (000-102)","lab":3.72,"top":3.29,"tip":2.57},
{"x":3905.78,"c":"b","t":"S₂ 10-2","lab":3.72,"top":3.29,"tip":2.57},
{"x":3908.49,"c":"p","t":"CH B-X 0-0 P₁(4)","lab":3.72,"top":3.29,"tip":2.57},
{"x":3913.08,"c":"b","t":"CO₂⁺ 1/2 (000-102)","lab":3.72,"top":3.29,"tip":2.57},
{"x":3913.58,"c":"b","t":"C₃ Π⁺-Σg⁺","lab":1.67,"top":1.25,"tip":0.5},
{"x":3914.6,"c":"b","t":"CH B-X 0-0 P₁(5)","lab":2.31,"top":1.86,"tip":1.17},
{"x":3914.16,"c":"b","t":"CH B-X 0-0 P","lab":5.76,"top":5.31,"tip":4.64},
{"x":3925.0,"c":"b","t":"C₃ Πᵤ⁻-Σg⁺","lab":3.72,"top":3.29,"tip":2.57},
{"x":3927.12,"c":"b","t":"CO₂⁺ 1/2 (100-102)","lab":3.72,"top":3.29,"tip":2.57},
{"x":3927.81,"c":"b","t":"C₃ Σg⁻-Πᵤ","lab":3.72,"top":3.29,"tip":2.57},
{"x":3929.61,"c":"p","t":"C₃ (040-000) Q(6)","lab":3.72,"top":3.29,"tip":2.57},
{"x":3933.93,"c":"b","t":"S₂ 9-0","lab":3.72,"top":3.29,"tip":2.57},
{"x":3934.91,"c":"p","t":"C₃ Πᵤ⁺-Σg⁺ + Δg","lab":3.72,"top":3.29,"tip":2.57},
{"x":3935.92,"c":"b","t":"S₂ 14-8","lab":3.72,"top":3.29,"tip":2.57},
{"x":3941.12,"c":"p","t":"CO₂⁺ 3/2 + 1/2 (200-202)","lab":1.72,"top":1.3,"tip":0.56},
{"x":3943.63,"c":"b","t":"S₂ 11-3","lab":3.72,"top":3.29,"tip":2.57},
{"x":3948.23,"c":"b","t":"C₃ Πᵤ⁻-Σg⁺ + Δg","lab":3.72,"top":3.29,"tip":2.57},
{"x":3950.98,"c":"b","t":"H₂CO α₁₁","lab":3.74,"tip":2.57},
{"x":3907.95,"c":"b","tip":6.79},
{"x":3913.5,"c":"b","tip":7.03},
{"x":3918.69,"c":"b","tip":6.79}
]
},
"vconcat":[
{"width":1540,"height":441,
 "resolve":{"axis":{"x":"independent"}},
 "layer":[
  {"data":{"name":"o1"},"mark":{"type":"area","interpolate":"step","color":"#f6a11e"},
   "encoding":{"x":{"field":"x","type":"quantitative","scale":{"domain":[3900,3950],"nice":false,"zero":false},
     "axis":{"orient":"bottom","values":[3900,3901,3902,3903,3904,3905,3906,3907,3908,3909,3910,3911,3912,3913,3914,3915,3916,3917,3918,3919,3920,3921,3922,3923,3924,3925,3926,3927,3928,3929,3930,3931,3932,3933,3934,3935,3936,3937,3938,3939,3940,3941,3942,3943,3944,3945,3946,3947,3948,3949,3950],"labels":false,"grid":false,"title":null,"zindex":1,"tickSize":{"condition":{"test":"datum.value % 10 === 0","value":-22},"value":-11}}},
    "y":{"field":"v","type":"quantitative","scale":{"domain":[0,7.02],"nice":false},"axis":{"values":[0.5,1.5,2.5,3.5,4.5,5.5,6.5],"grid":true,"domain":false,"ticks":false,"labels":false,"title":null}}}},
  {"data":{"name":"o1"},"mark":{"type":"line","interpolate":"step","color":"#2b2b2b","strokeWidth":1.3},
   "encoding":{"x":{"field":"x","type":"quantitative","scale":{"domain":[3900,3950],"nice":false,"zero":false},"axis":null},
    "y":{"field":"v","type":"quantitative","scale":{"domain":[0,7.02],"nice":false},"axis":null}}},
  {"data":{"name":"g1"},"mark":{"type":"line","interpolate":"step","color":"#168f48","strokeWidth":3},
   "encoding":{"x":{"field":"x","type":"quantitative","scale":{"domain":[3900,3950],"nice":false,"zero":false},
     "axis":{"orient":"top","values":[3900,3901,3902,3903,3904,3905,3906,3907,3908,3909,3910,3911,3912,3913,3914,3915,3916,3917,3918,3919,3920,3921,3922,3923,3924,3925,3926,3927,3928,3929,3930,3931,3932,3933,3934,3935,3936,3937,3938,3939,3940,3941,3942,3943,3944,3945,3946,3947,3948,3949,3950],"format":"d","labelExpr":"datum.value % 10 === 0 ? datum.label : ''","labelPadding":29,"labelOffset":{"condition":{"test":"datum.value === 3950","value":-4},"value":0},"grid":true,"gridOpacity":{"condition":{"test":"datum.value % 10 === 0 && datum.value > 3900","value":1},"value":0},"title":null,"tickSize":{"condition":{"test":"datum.value % 10 === 0","value":-22},"value":-11}}},
    "y":{"field":"v","type":"quantitative","scale":{"domain":[0,7.02],"nice":false},"axis":null}}},
  {"data":{"name":"ann"},"transform":[{"filter":"datum.top != null"}],"mark":{"type":"rule","strokeWidth":2.6,"y2Offset":-10},
   "encoding":{"x":{"field":"x","type":"quantitative","scale":{"domain":[3900,3950],"nice":false,"zero":false},"axis":null},
    "y":{"field":"top","type":"quantitative","scale":{"domain":[0,7.02],"nice":false},"axis":null},
    "y2":{"field":"tip"},
    "color":{"field":"c","type":"nominal","scale":{"domain":["p","b"],"range":["#8e1f8b","#5a64b5"]},"legend":null}}},
  {"data":{"name":"ann"},"mark":{"type":"point","shape":"M-0.55,-1L0.55,-1L0,1Z","size":529,"filled":true,"opacity":1,"strokeWidth":0,"yOffset":-11.5},
   "encoding":{"x":{"field":"x","type":"quantitative","scale":{"domain":[3900,3950],"nice":false,"zero":false},"axis":null},
    "y":{"field":"tip","type":"quantitative","scale":{"domain":[0,7.02],"nice":false},"axis":null},
    "color":{"field":"c","type":"nominal","scale":{"domain":["p","b"],"range":["#8e1f8b","#5a64b5"]},"legend":null}}},
  {"data":{"name":"ann"},"transform":[{"filter":"datum.t != null"}],"mark":{"type":"text","angle":270,"align":"left","baseline":"middle","fontSize":24,"font":"Liberation Sans"},
   "encoding":{"x":{"field":"x","type":"quantitative","scale":{"domain":[3900,3950],"nice":false,"zero":false},"axis":null},
    "y":{"field":"lab","type":"quantitative","scale":{"domain":[0,7.02],"nice":false},"axis":null},
    "text":{"field":"t"},
    "color":{"field":"c","type":"nominal","scale":{"domain":["p","b"],"range":["#8e1f8b","#5a64b5"]},"legend":null}}}
 ]},
{"width":1540,"height":457,
 "resolve":{"axis":{"x":"independent"}},
 "layer":[
  {"data":{"name":"o2"},"mark":{"type":"area","interpolate":"step","color":"#f6a11e"},
   "encoding":{"x":{"field":"x","type":"quantitative","scale":{"domain":[3900,3950],"nice":false,"zero":false},
     "axis":{"orient":"bottom","values":[3900,3901,3902,3903,3904,3905,3906,3907,3908,3909,3910,3911,3912,3913,3914,3915,3916,3917,3918,3919,3920,3921,3922,3923,3924,3925,3926,3927,3928,3929,3930,3931,3932,3933,3934,3935,3936,3937,3938,3939,3940,3941,3942,3943,3944,3945,3946,3947,3948,3949,3950],"labels":false,"grid":false,"title":null,"zindex":1,"tickSize":{"condition":{"test":"datum.value % 10 === 0","value":-22},"value":-11}}},
    "y":{"field":"v","type":"quantitative","scale":{"domain":[0,5.52],"nice":false},"axis":{"values":[0.5,1.5,2.5,3.5,4.5],"grid":true,"domain":false,"ticks":false,"labels":false,"title":null}}}},
  {"data":{"name":"o2"},"mark":{"type":"line","interpolate":"step","color":"#2b2b2b","strokeWidth":1.3},
   "encoding":{"x":{"field":"x","type":"quantitative","scale":{"domain":[3900,3950],"nice":false,"zero":false},"axis":null},
    "y":{"field":"v","type":"quantitative","scale":{"domain":[0,5.52],"nice":false},"axis":null}}},
  {"data":{"name":"g2"},"mark":{"type":"line","interpolate":"step","color":"#168f48","strokeWidth":3},
   "encoding":{"x":{"field":"x","type":"quantitative","scale":{"domain":[3900,3950],"nice":false,"zero":false},
     "axis":{"orient":"top","values":[3900,3901,3902,3903,3904,3905,3906,3907,3908,3909,3910,3911,3912,3913,3914,3915,3916,3917,3918,3919,3920,3921,3922,3923,3924,3925,3926,3927,3928,3929,3930,3931,3932,3933,3934,3935,3936,3937,3938,3939,3940,3941,3942,3943,3944,3945,3946,3947,3948,3949,3950],"labels":false,"grid":true,"gridOpacity":{"condition":{"test":"datum.value % 10 === 0 && datum.value > 3900","value":1},"value":0},"title":null,"tickSize":{"condition":{"test":"datum.value % 10 === 0","value":-22},"value":-11}}},
    "y":{"field":"v","type":"quantitative","scale":{"domain":[0,5.52],"nice":false},"axis":null}}}
 ]},
{"width":1540,"height":457,
 "resolve":{"axis":{"x":"independent"}},
 "layer":[
  {"data":{"name":"o3"},"mark":{"type":"area","interpolate":"step","color":"#f6a11e"},
   "encoding":{"x":{"field":"x","type":"quantitative","scale":{"domain":[3900,3950],"nice":false,"zero":false},
     "axis":{"orient":"bottom","values":[3900,3901,3902,3903,3904,3905,3906,3907,3908,3909,3910,3911,3912,3913,3914,3915,3916,3917,3918,3919,3920,3921,3922,3923,3924,3925,3926,3927,3928,3929,3930,3931,3932,3933,3934,3935,3936,3937,3938,3939,3940,3941,3942,3943,3944,3945,3946,3947,3948,3949,3950],"format":"d","labelExpr":"datum.value % 10 === 0 ? datum.label : ''","labelPadding":42,"labelOffset":{"condition":{"test":"datum.value === 3950","value":-4},"value":0},"grid":false,"title":null,"zindex":1,"tickSize":{"condition":{"test":"datum.value % 10 === 0","value":-22},"value":-11}}},
    "y":{"field":"v","type":"quantitative","scale":{"domain":[0,4.98],"nice":false},"axis":{"values":[1,2,3,4],"grid":true,"domain":false,"ticks":false,"labels":false,"title":null}}}},
  {"data":{"name":"o3"},"mark":{"type":"line","interpolate":"step","color":"#2b2b2b","strokeWidth":1.3},
   "encoding":{"x":{"field":"x","type":"quantitative","scale":{"domain":[3900,3950],"nice":false,"zero":false},"axis":null},
    "y":{"field":"v","type":"quantitative","scale":{"domain":[0,4.98],"nice":false},"axis":null}}},
  {"data":{"name":"g3"},"mark":{"type":"line","interpolate":"step","color":"#168f48","strokeWidth":3},
   "encoding":{"x":{"field":"x","type":"quantitative","scale":{"domain":[3900,3950],"nice":false,"zero":false},
     "axis":{"orient":"top","values":[3900,3901,3902,3903,3904,3905,3906,3907,3908,3909,3910,3911,3912,3913,3914,3915,3916,3917,3918,3919,3920,3921,3922,3923,3924,3925,3926,3927,3928,3929,3930,3931,3932,3933,3934,3935,3936,3937,3938,3939,3940,3941,3942,3943,3944,3945,3946,3947,3948,3949,3950],"labels":false,"grid":true,"gridOpacity":{"condition":{"test":"datum.value % 10 === 0 && datum.value > 3900","value":1},"value":0},"title":null,"tickSize":{"condition":{"test":"datum.value % 10 === 0","value":-22},"value":-11}}},
    "y":{"field":"v","type":"quantitative","scale":{"domain":[0,4.98],"nice":false},"axis":null}}}
 ]}
]
}
